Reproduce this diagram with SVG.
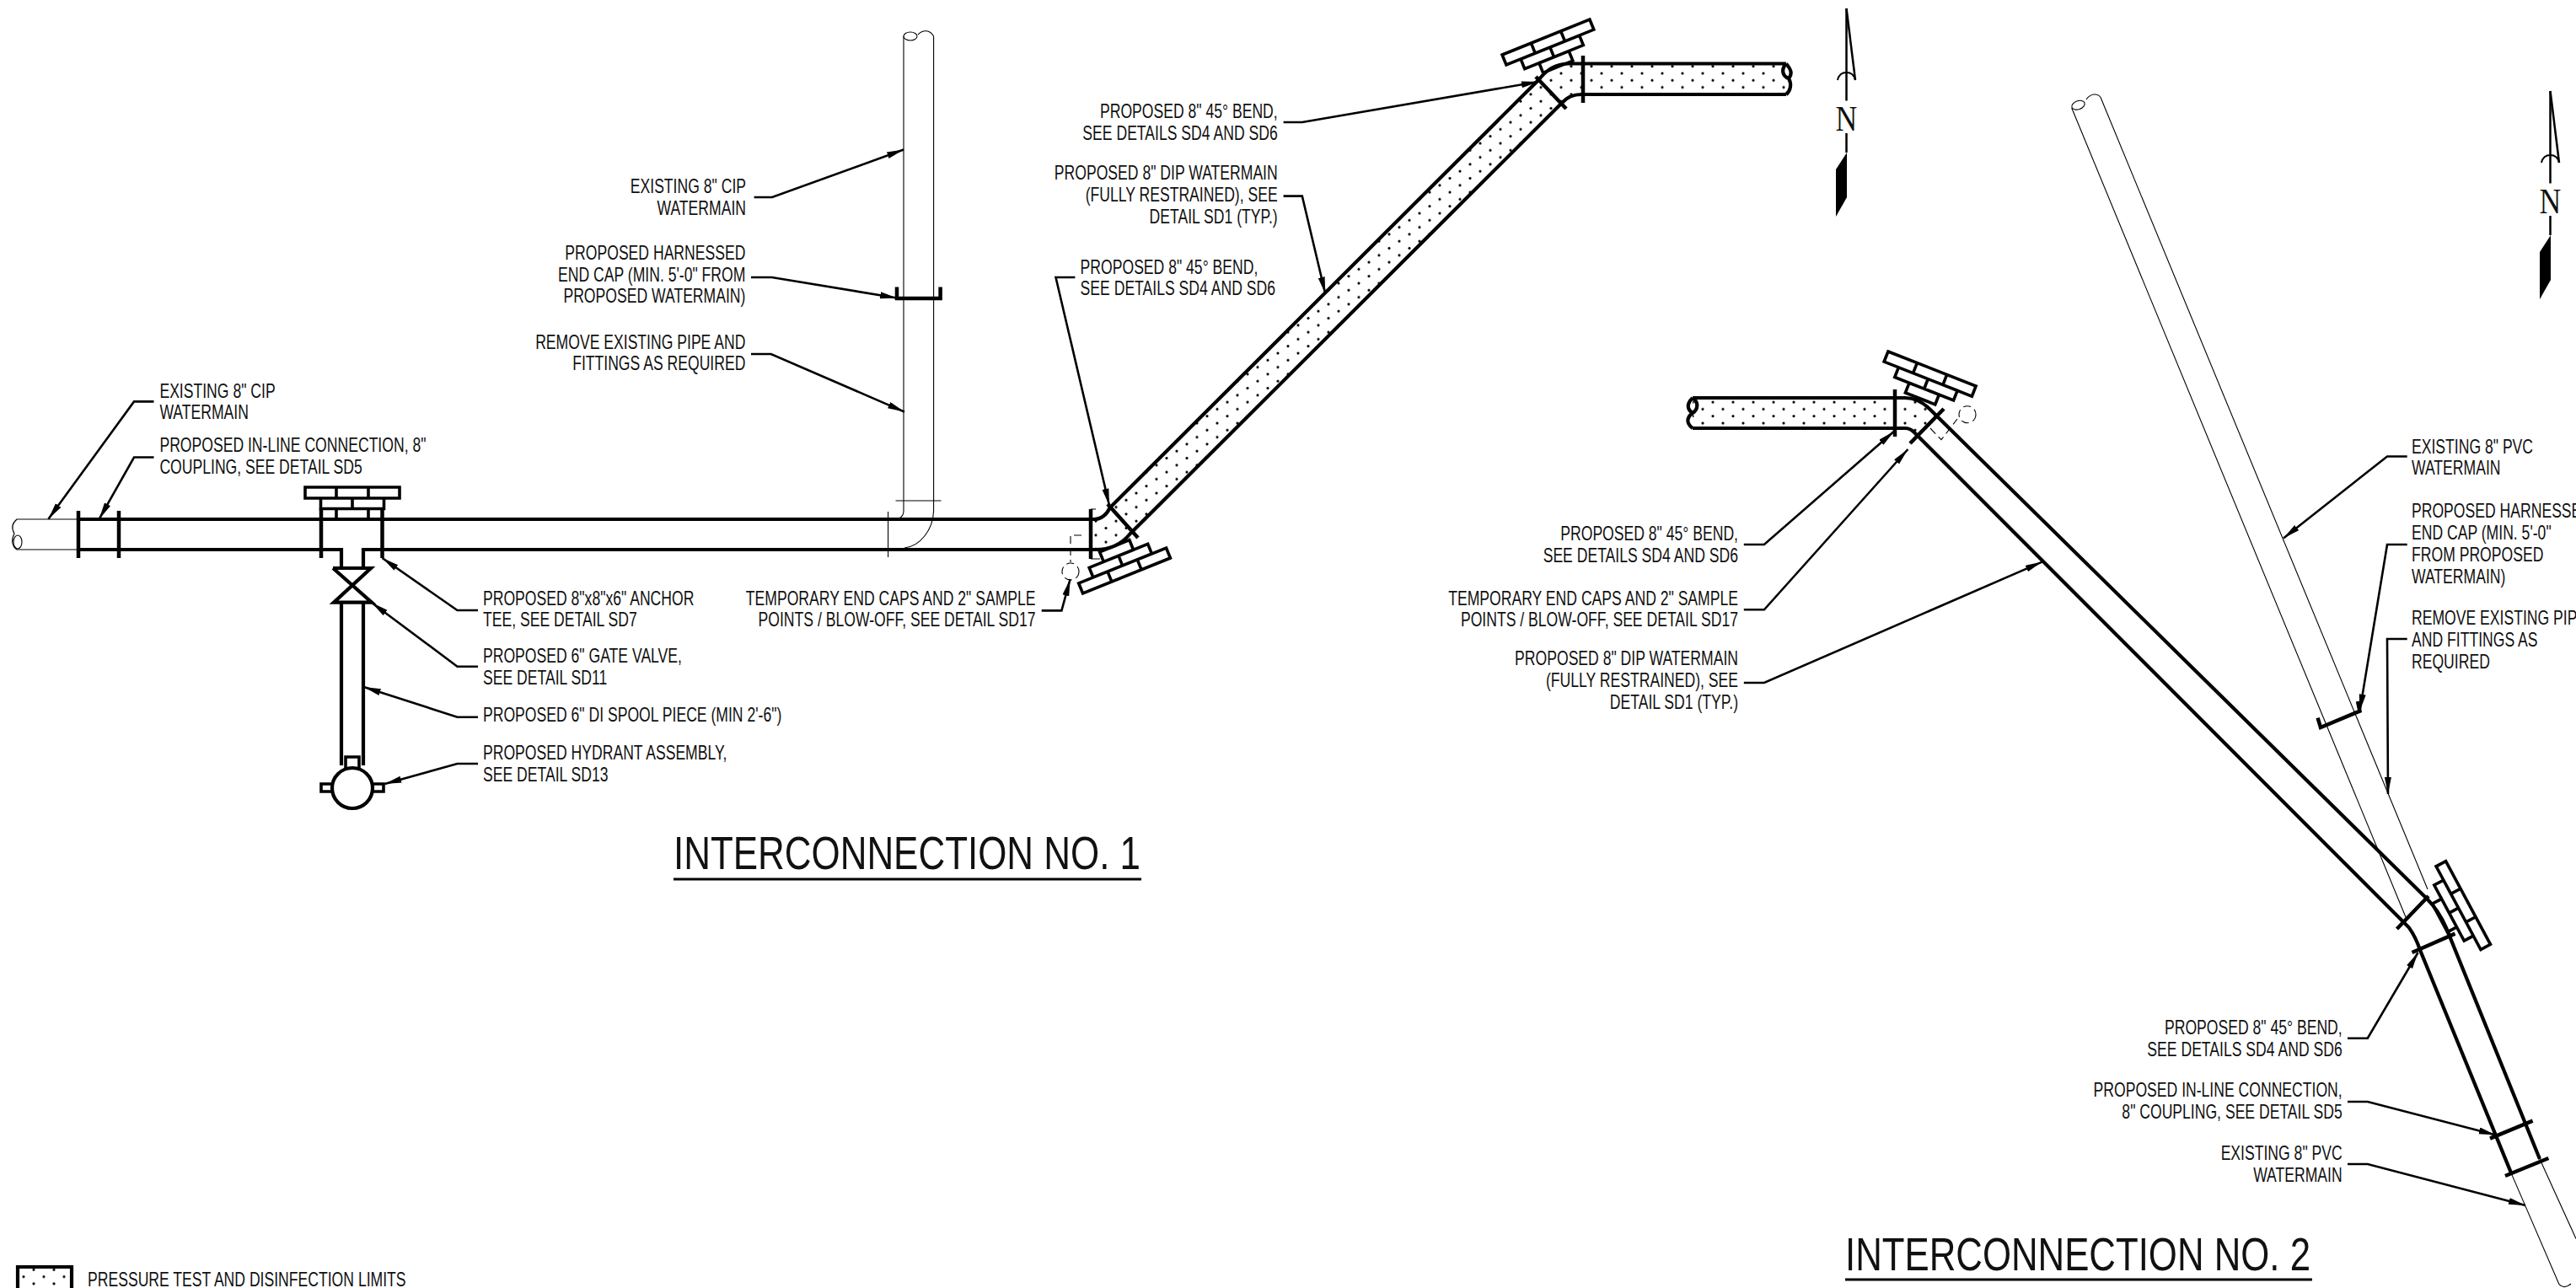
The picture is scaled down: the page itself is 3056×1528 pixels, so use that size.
<svg xmlns="http://www.w3.org/2000/svg" xmlns:xlink="http://www.w3.org/1999/xlink" width="3056" height="1528" viewBox="0 0 3056 1528">
<style>
text{font-family:"Liberation Sans",Arial,sans-serif;fill:#111}
.t{font-size:23px}
.e{text-anchor:end}
.h{fill:none;stroke:#000;stroke-width:4.2}
.c{fill:none;stroke:#000;stroke-width:4.5}
.n{fill:none;stroke:#000;stroke-width:1.1}
.d{fill:none;stroke:#000;stroke-width:1.1;stroke-dasharray:9 5}
.l{fill:none;stroke:#000;stroke-width:2.6;marker-end:url(#ah)}
.b{fill:none;stroke:#000;stroke-width:3.6}
.title{font-size:55px}
</style>
<defs>
<marker id="ah" markerUnits="userSpaceOnUse" markerWidth="22" markerHeight="10" refX="20" refY="4" orient="auto"><path d="M0 0L20 4L0 8z" fill="#000"/></marker>
<pattern id="dots" patternUnits="userSpaceOnUse" width="24" height="16.6"><circle cx="4" cy="4" r="1.6" fill="#000"/><circle cx="16" cy="12.3" r="1.6" fill="#000"/></pattern>
<g id="thrust"><path class="b" d="M-56 0H56V13H-56zM-37.5 13H37.5V25.500H-37.5zM-19 25.500H19V38H-19zM-19 0V13M19 0V13M0 13V25.500"/></g>
<g id="north"><path d="M3025.500 108V217.500" fill="none" stroke="#000" stroke-width="2.500"/><path d="M3025.500 108L3036 193" fill="none" stroke="#000" stroke-width="2.500"/><path d="M3015 193Q3017 184 3025.500 184Q3034 184 3036 193" fill="none" stroke="#000" stroke-width="2"/><text transform="translate(3025.500 253) scale(.85 1)" text-anchor="middle" style="font-family:'Liberation Serif',serif;font-size:42px">N</text><path d="M3025.500 256V279" fill="none" stroke="#000" stroke-width="2.500"/><path d="M3026 279L3013 299V355L3026 332z" fill="#000"/></g>
</defs>
<rect width="3056" height="1528" fill="#fff"/>
<g id="hatching">
<path fill="url(#dots)" d="M1295 616H1303L1317 602L1826 94L1840 80L1857 76H2118V112H1876Q1862 112 1853 122L1344 631Q1330 645 1310 652H1295z"/>
<path fill="url(#dots)" d="M2008 472H2260L2280 478L2299 492L2270 520L2260 508H2008z"/>
<path fill="url(#dots)" d="M23 1505H83V1528H23z"/>
</g>
<g id="existing-pipes">
<path class="n" d="M93 616H20C13 622 14 628 17 633C13 640 14 648 20 652H93"/><ellipse class="n" cx="21" cy="643" rx="5" ry="8"/>
<path class="n" d="M1072 606V43M1107.600 606V43"/><ellipse class="n" cx="1080" cy="43" rx="8" ry="5"/><path class="n" d="M1089 41C1095 35 1103 35 1107.600 43"/>
<path class="n" d="M1062.500 594H1116.500M1053.600 607V661M1072 606Q1072 613 1066 615M1107.600 606C1107 628 1092 648 1073 650"/>
<path class="n" d="M2457.700 128L2854 1088M2492 115.500L2880 1055"/><ellipse class="n" cx="2465.500" cy="124.700" rx="8" ry="5" transform="rotate(-20 2465.500 124.700)"/><path class="n" d="M2475 118C2480 111 2488 110 2492 115.500"/>
<path class="n" d="M2979.500 1392.600L3036 1523.700Q3042 1530 3050 1523M3013 1375L3056 1469.500"/>
<path class="d" d="M1283 635H1270V667"/><circle class="d" cx="1270" cy="678" r="10"/>
<path class="n" d="M1294 604H1300M1294 663H1305"/>
<path class="d" d="M2290 508L2303 521.700L2322 497M2277 521L2285 527"/><circle class="d" cx="2334" cy="491.700" r="10" stroke-dasharray="16 6"/>
</g>
<g id="interconnection-1-pipe">
<path class="h" d="M93 616H1298Q1310 616 1317 602L1826 94Q1840 76 1860 75.500H2119"/>
<path class="h" d="M93 652H405V674M431 674V652H1300Q1325 652 1340 634L1853 122Q1862 112 1876 112H2119"/>
<path class="h" d="M2119 75.500C2126 84 2126 88 2122 93C2126 100 2124 108 2119 112M2119 75.500C2113 82 2114 90 2122 93"/>
<path class="c" d="M93 606V662M141 606V662M381 603V662M453.500 603V662M1294 604V663M1878 66V122M1314 598L1350 638M1822 91L1858 129"/>
</g>
<g id="tee-valve-hydrant">
<use xlink:href="#thrust" href="#thrust" transform="translate(418 578)"/>
<path class="h" d="M395 674H440L396 714.600H441L395 674"/>
<path class="h" d="M405 714.600V908M431 714.600V908"/>
<circle cx="418" cy="935" r="24" class="h"/>
<path class="b" d="M410 911V898H426V911M394 930H381V939H394M442 930H455V939H442"/>
</g>
<g id="thrust-blocks">
<use xlink:href="#thrust" href="#thrust" transform="translate(1834 44) rotate(-22)"/>
<use xlink:href="#thrust" href="#thrust" transform="translate(1336.500 683) rotate(158)"/>
<use xlink:href="#thrust" href="#thrust" transform="translate(2292 437.500) rotate(21.500)"/>
<use xlink:href="#thrust" href="#thrust" transform="translate(2928 1071) rotate(61.800)"/>
</g>
<g id="interconnection-2-pipe">
<path class="h" d="M2008 472H2260Q2276 472 2289 485L2879 1066Q2893 1080 2902 1100.600L3013 1375"/>
<path class="h" d="M2008 508H2260Q2266 508 2271 513L2858 1100.600Q2866 1112 2871 1127L2979.500 1392.600"/>
<path class="h" d="M2008 472C2000 480 2002 486 2008 490C2001 495 2000 502 2008 508M2008 472C2016 478 2014 486 2008 490"/>
<path class="c" d="M2248 462V518M2266 526L2306 485M2843.500 1102L2881 1063M2861.500 1130L2912.500 1107.600M2954 1350.600L3004.600 1329.700M2972 1395L3023.400 1374"/>
</g>
<g id="end-caps">
<path class="c" d="M1064 340.500V354H1115.600V340.500"/>
<path class="c" d="M2749.600 851.700L2753 863L2799.500 843.600L2797 832"/>
</g>
<use id="north-1" xlink:href="#north" href="#north" transform="translate(-835 -98)"/>
<use id="north-2" xlink:href="#north" href="#north"/>
<g id="connectors">
<path class="l" d="M182.500 476.400H159L57.400 615.700"/>
<path class="l" d="M182.500 542.500H159L117.700 615.700"/>
<path class="l" d="M567 724H542.500L453.500 662"/>
<path class="l" d="M567 790.700H542.500L441 715"/>
<path class="l" d="M567 850.700H542.500L431.700 815"/>
<path class="l" d="M567 906H542.500L456.400 930"/>
<path class="l" d="M894.600 234H916L1072 177.500"/>
<path class="l" d="M891 329H915.600L1064 353.500"/>
<path class="l" d="M891 420H914.700L1073 488.600"/>
<path class="l" d="M1235.700 724.400H1259.400L1269.600 687"/>
<path class="l" d="M1522.600 145H1544.800L1824.800 97"/>
<path class="l" d="M1522.600 232.600H1544.800L1572.300 348.500"/>
<path class="l" d="M1275.400 329H1252.500L1316 599.500"/>
<path class="l" d="M2068.800 646H2092.900L2246.900 511.700"/>
<path class="l" d="M2068.800 723.300H2092.900L2263.400 533"/>
<path class="l" d="M2068.800 810H2092.900L2422.600 666.600"/>
<path class="l" d="M2785 1231.700H2808.800L2868.600 1130"/>
<path class="l" d="M2785 1307H2808.800L2960.700 1346.400"/>
<path class="l" d="M2785 1381H2808.800L2996 1430"/>
<path class="l" d="M2855.700 541.500H2832L2709 638.500"/>
<path class="l" d="M2855.700 646H2832L2799.500 843.600"/>
<path class="l" d="M2855.700 758H2832L2833 942"/>
</g>
<g id="labels">
<g id="lbl-cip1"><text class="t" transform="translate(189.400 472) scale(.765 1)">EXISTING 8" CIP<tspan x="0" dy="25">WATERMAIN</tspan></text></g>
<g id="lbl-inline1"><text class="t" transform="translate(189.400 536.400) scale(.765 1)">PROPOSED IN-LINE CONNECTION, 8"<tspan x="0" dy="26">COUPLING, SEE DETAIL SD5</tspan></text></g>
<g id="lbl-tee"><text class="t" transform="translate(573 718) scale(.765 1)">PROPOSED 8"x8"x6" ANCHOR<tspan x="0" dy="25.500">TEE, SEE DETAIL SD7</tspan></text></g>
<g id="lbl-valve"><text class="t" transform="translate(573 786.400) scale(.765 1)">PROPOSED 6" GATE VALVE,<tspan x="0" dy="25.500">SEE DETAIL SD11</tspan></text></g>
<g id="lbl-spool"><text class="t" transform="translate(573 856) scale(.765 1)">PROPOSED 6" DI SPOOL PIECE (MIN 2'-6")</text></g>
<g id="lbl-hydrant"><text class="t" transform="translate(573 901.400) scale(.765 1)">PROPOSED HYDRANT ASSEMBLY,<tspan x="0" dy="26">SEE DETAIL SD13</tspan></text></g>
<g id="lbl-cip2"><text class="t e" transform="translate(885 229) scale(.765 1)">EXISTING 8" CIP<tspan x="0" dy="26">WATERMAIN</tspan></text></g>
<g id="lbl-cap1"><text class="t e" transform="translate(884.400 308) scale(.765 1)">PROPOSED HARNESSED<tspan x="0" dy="25.700">END CAP (MIN. 5'-0" FROM</tspan><tspan x="0" dy="25.700">PROPOSED WATERMAIN)</tspan></text></g>
<g id="lbl-remove1"><text class="t e" transform="translate(884.400 414) scale(.765 1)">REMOVE EXISTING PIPE AND<tspan x="0" dy="25.500">FITTINGS AS REQUIRED</tspan></text></g>
<g id="lbl-temp1"><text class="t e" transform="translate(1228.600 717.700) scale(.765 1)">TEMPORARY END CAPS AND 2" SAMPLE<tspan x="0" dy="25.500">POINTS / BLOW-OFF, SEE DETAIL SD17</tspan></text></g>
<g id="lbl-bend1"><text class="t e" transform="translate(1515.700 140) scale(.765 1)">PROPOSED 8" 45° BEND,<tspan x="0" dy="26">SEE DETAILS SD4 AND SD6</tspan></text></g>
<g id="lbl-dip1"><text class="t e" transform="translate(1515.700 213) scale(.765 1)">PROPOSED 8" DIP WATERMAIN<tspan x="0" dy="26">(FULLY RESTRAINED), SEE</tspan><tspan x="0" dy="26">DETAIL SD1 (TYP.)</tspan></text></g>
<g id="lbl-bend2"><text class="t" transform="translate(1281.600 324.500) scale(.765 1)">PROPOSED 8" 45° BEND,<tspan x="0" dy="25.500">SEE DETAILS SD4 AND SD6</tspan></text></g>
<g id="lbl-bend3"><text class="t e" transform="translate(2062 640.700) scale(.765 1)">PROPOSED 8" 45° BEND,<tspan x="0" dy="26">SEE DETAILS SD4 AND SD6</tspan></text></g>
<g id="lbl-temp2"><text class="t e" transform="translate(2062 717.700) scale(.765 1)">TEMPORARY END CAPS AND 2" SAMPLE<tspan x="0" dy="25">POINTS / BLOW-OFF, SEE DETAIL SD17</tspan></text></g>
<g id="lbl-dip2"><text class="t e" transform="translate(2062 789.300) scale(.765 1)">PROPOSED 8" DIP WATERMAIN<tspan x="0" dy="26">(FULLY RESTRAINED), SEE</tspan><tspan x="0" dy="26">DETAIL SD1 (TYP.)</tspan></text></g>
<g id="lbl-bend4"><text class="t e" transform="translate(2778.700 1227) scale(.765 1)">PROPOSED 8" 45° BEND,<tspan x="0" dy="25.700">SEE DETAILS SD4 AND SD6</tspan></text></g>
<g id="lbl-inline2"><text class="t e" transform="translate(2778.700 1301) scale(.765 1)">PROPOSED IN-LINE CONNECTION,<tspan x="0" dy="26">8" COUPLING, SEE DETAIL SD5</tspan></text></g>
<g id="lbl-pvc1"><text class="t e" transform="translate(2778.700 1376) scale(.765 1)">EXISTING 8" PVC<tspan x="0" dy="26">WATERMAIN</tspan></text></g>
<g id="lbl-pvc2"><text class="t" transform="translate(2861 537.500) scale(.765 1)">EXISTING 8" PVC<tspan x="0" dy="25.500">WATERMAIN</tspan></text></g>
<g id="lbl-cap2"><text class="t" transform="translate(2861 614) scale(.765 1)">PROPOSED HARNESSED<tspan x="0" dy="26">END CAP (MIN. 5'-0"</tspan><tspan x="0" dy="26">FROM PROPOSED</tspan><tspan x="0" dy="26">WATERMAIN)</tspan></text></g>
<g id="lbl-remove2"><text class="t" transform="translate(2861 741) scale(.765 1)">REMOVE EXISTING PIPE<tspan x="0" dy="26">AND FITTINGS AS</tspan><tspan x="0" dy="26">REQUIRED</tspan></text></g>
</g>
<g id="title-1"><text class="title" x="799" y="1031" textLength="554" lengthAdjust="spacingAndGlyphs">INTERCONNECTION NO. 1</text><path d="M799 1043H1354" stroke="#000" stroke-width="3"/></g>
<g id="title-2"><text class="title" x="2189" y="1507" textLength="552" lengthAdjust="spacingAndGlyphs">INTERCONNECTION NO. 2</text><path d="M2189 1518H2743" stroke="#000" stroke-width="3"/></g>
<g id="legend"><path class="h" d="M21 1528V1503H85V1528"/><text class="t" transform="translate(104 1525.700) scale(.765 1)">PRESSURE TEST AND DISINFECTION LIMITS</text></g>
</svg>
